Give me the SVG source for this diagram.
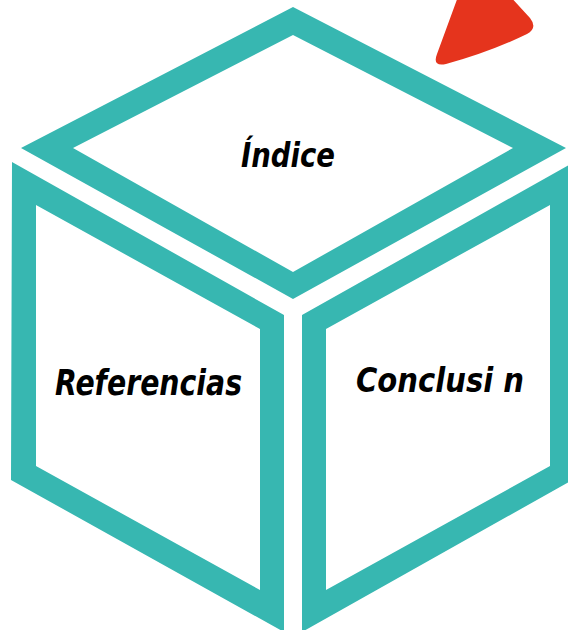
<svg xmlns="http://www.w3.org/2000/svg" width="568" height="630" viewBox="0 0 568 630">
  <style>
    .face { fill: #37B7B1; fill-rule: evenodd; }
    .label { font-family: "DejaVu Sans", "Liberation Sans", sans-serif; font-weight: bold; font-style: italic; fill: #000; text-anchor: middle; }
  </style>
  <rect width="568" height="630" fill="#ffffff"/>
  <g id="triangle">
    <path d="M459,-6 L508,-6 L530,18 Q538,28 527,34 Q490,52 446,64 Q432,67 437,54 Z" fill="#E5341D"/>
  </g>
  <g id="indice">
    <path class="face" d="M293,7 L566,148 L293,299 L21,148 Z M293,35 L513,148 L293,272 L73,148 Z"/>
    <text class="label" x="288" y="167" font-size="33" textLength="94" lengthAdjust="spacingAndGlyphs">Índice</text>
  </g>
  <g id="referencias">
    <path class="face" d="M12,162 L284,315 L284,632 L11,480 Z M36,205 L260,329 L260,590 L36,466 Z"/>
    <text class="label" x="148.5" y="395" font-size="35" textLength="187" lengthAdjust="spacingAndGlyphs">Referencias</text>
  </g>
  <g id="conclusion">
    <path class="face" d="M302,315 L576,161 L576,478 L302,632 Z M326,329 L550,205 L550,466 L326,590 Z"/>
    <text class="label" x="440" y="392" font-size="33" textLength="168" lengthAdjust="spacingAndGlyphs">Conclusi n</text>
  </g>
  <g id="connectors"></g>
</svg>
